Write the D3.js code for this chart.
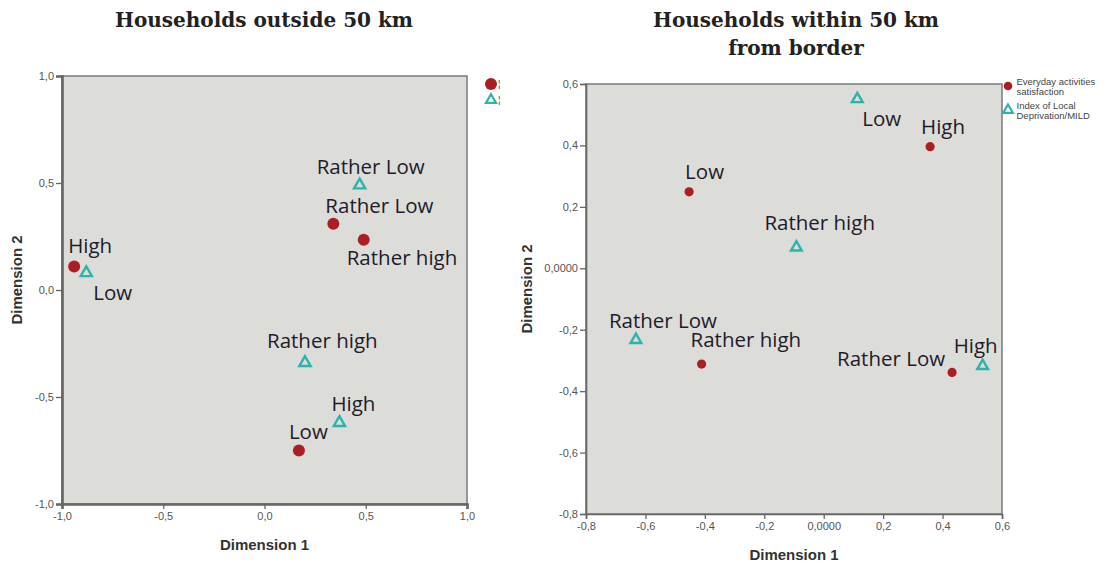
<!DOCTYPE html>
<html>
<head>
<meta charset="utf-8">
<script src="https://cdn.jsdelivr.net/npm/d3@7"></script>
<style>
  body { margin: 0; background: #fff; }
  .title { font-family: "DejaVu Serif", serif; font-weight: bold; font-size: 20px; fill: #222; }
  .tick text { font-family: Arial, "Liberation Sans", sans-serif; font-size: 11px; fill: #555; }
  .axis-title { font-family: Arial, "Liberation Sans", sans-serif; font-weight: bold; font-size: 15px; fill: #333; }
  .pt-label { font-family: "Open Sans", sans-serif; font-size: 20.5px; fill: #1e1b2a; }
  .legend-text { font-family: Arial, "Liberation Sans", sans-serif; font-size: 9.5px; fill: #444; }
</style>
</head>
<body>
<div id="chart"></div>
<script>
// Households outside 50 km
var outsideSatLabels = ["High", "Rather Low", "Rather high", "Low"];
var outsideSatX = [-0.94, 0.34, 0.49, 0.17];
var outsideSatY = [0.11, 0.31, 0.235, -0.75];
var outsideDepLabels = ["Low", "Rather Low", "Rather high", "High"];
var outsideDepX = [-0.88, 0.47, 0.20, 0.37];
var outsideDepY = [0.08, 0.49, -0.34, -0.62];

// Households within 50 km from border
var withinSatLabels = ["High", "Low", "Rather high", "Rather Low"];
var withinSatX = [0.358, -0.453, -0.411, 0.432];
var withinSatY = [0.396, 0.249, -0.312, -0.339];
var withinDepLabels = ["Low", "Rather high", "Rather Low", "High"];
var withinDepX = [0.113, -0.092, -0.632, 0.535];
var withinDepY = [0.551, 0.068, -0.233, -0.318];

var outsideTicks = [-1, -0.5, 0, 0.5, 1];
var withinTicks = [-0.8, -0.6, -0.4, -0.2, 0, 0.2, 0.4, 0.6];
var legendNames = [["Everyday activities", "satisfaction"], ["Index of Local", "Deprivation/MILD"]];

// label placement (layout only), offsets from the marker centre
var outsideSatOff = [[-6, -13], [-8, -11], [-17, 25], [-10, -12]];
var outsideDepOff = [[7, 27], [-43, -11], [-38, -15], [-8, -12]];
var withinSatOff = [[-9, -13], [-4, -13], [-11, -17], [-115, -6]];
var withinDepOff = [[5, 27], [-32, -17], [-27, -12], [-29, -13]];

var RED = "#ab1f24", TEAL = "#2bb3ad";

var locale = d3.formatLocale({decimal: ",", thousands: ".", grouping: [3], currency: ["", ""], minus: "-"});
var f1 = locale.format(".1f");

var svg = d3.select("#chart").append("svg")
    .attr("width", 1115)
    .attr("height", 563);

var tri = d3.symbol().type(d3.symbolTriangle);

function panel(opt) {
    var g = svg.append("g");
    var x = d3.scaleLinear().domain(opt.domain).range([opt.left, opt.right]);
    var y = d3.scaleLinear().domain(opt.domain2).range([opt.bottom, opt.top]);

    g.append("rect")
        .attr("x", opt.left).attr("y", opt.top)
        .attr("width", opt.right - opt.left).attr("height", opt.bottom - opt.top)
        .attr("fill", "#dcddd9")
        .attr("stroke", "#7a7a7a")
        .attr("stroke-width", 1.5);

    var fmt = opt.fmt;

    var xa = g.append("g")
        .attr("transform", "translate(0," + opt.bottom + ")")
        .call(d3.axisBottom(x).tickValues(opt.ticks).tickSize(5).tickPadding(3).tickFormat(fmt));
    var ya = g.append("g")
        .attr("transform", "translate(" + opt.left + ",0)")
        .call(d3.axisLeft(y).tickValues(opt.ticks2).tickSize(6).tickPadding(2).tickFormat(fmt));
    [xa, ya].forEach(function (a) {
        a.select(".domain").attr("stroke", "#666").attr("stroke-width", opt.axisW);
        a.selectAll(".tick line").attr("stroke", "#666").attr("stroke-width", 1.3);
    });

    g.append("text")
        .attr("class", "axis-title")
        .attr("x", (opt.left + opt.right) / 2)
        .attr("y", opt.bottom + 46)
        .attr("text-anchor", "middle")
        .text("Dimension 1");
    g.append("text")
        .attr("class", "axis-title")
        .attr("transform", "translate(" + opt.yTitleX + "," + ((opt.top + opt.bottom) / 2 - 10) + ")rotate(-90)")
        .attr("text-anchor", "middle")
        .text("Dimension 2");

    // title
    opt.title.forEach(function (t, i) {
        g.append("text")
            .attr("class", "title")
            .attr("x", opt.titleX)
            .attr("y", 27 + i * 28)
            .attr("text-anchor", "middle")
            .text(t);
    });

    // satisfaction points (red dots)
    opt.satX.forEach(function (v, i) {
        g.append("circle")
            .attr("cx", x(v)).attr("cy", y(opt.satY[i]))
            .attr("r", opt.r)
            .attr("fill", RED);
        g.append("text")
            .attr("class", "pt-label")
            .attr("x", x(v) + opt.satOff[i][0])
            .attr("y", y(opt.satY[i]) + opt.satOff[i][1])
            .text(opt.satLabels[i]);
    });

    // deprivation points (teal triangles)
    opt.depX.forEach(function (v, i) {
        g.append("path")
            .attr("d", tri.size(opt.triSize)())
            .attr("transform", "translate(" + x(v) + "," + y(opt.depY[i]) + ")")
            .attr("fill", "none")
            .attr("stroke", TEAL)
            .attr("stroke-width", 2.4);
        g.append("text")
            .attr("class", "pt-label")
            .attr("x", x(v) + opt.depOff[i][0])
            .attr("y", y(opt.depY[i]) + opt.depOff[i][1])
            .text(opt.depLabels[i]);
    });

    // legend
    var lg = g.append("g");
    lg.append("circle")
        .attr("cx", opt.legX).attr("cy", opt.legY)
        .attr("r", opt.legR).attr("fill", RED);
    lg.append("path")
        .attr("d", tri.size(opt.triSize * 0.8)())
        .attr("transform", "translate(" + opt.legX + "," + (opt.legY + opt.legGap) + ")")
        .attr("fill", "none").attr("stroke", TEAL).attr("stroke-width", 2.2);
    legendNames.forEach(function (lines, k) {
        if (opt.cutLegend) {
            // the left panel's legend is cut off right after the marker
            lg.append("text")
                .attr("class", "legend-text")
                .attr("x", opt.legX + 7)
                .attr("y", opt.legY + k * opt.legGap + 3)
                .attr("font-size", "7px")
                .text("¦");
            return;
        }
        lines.forEach(function (s, j) {
            lg.append("text")
                .attr("class", "legend-text")
                .attr("x", opt.legX + 8.5)
                .attr("y", opt.legY + k * opt.legGap + j * 9.5 - 1)
                .text(s);
        });
    });
}

panel({
    left: 62, right: 467, top: 76, bottom: 504,
    domain: [-1, 1], domain2: [-1, 1],
    ticks: outsideTicks, ticks2: outsideTicks,
    fmt: f1, axisW: 2.6,
    yTitleX: 22, titleX: 264,
    title: ["Households outside 50 km"],
    satX: outsideSatX, satY: outsideSatY, satLabels: outsideSatLabels, satOff: outsideSatOff,
    depX: outsideDepX, depY: outsideDepY, depLabels: outsideDepLabels, depOff: outsideDepOff,
    r: 6, triSize: 55,
    legX: 491, legY: 84, legR: 6, legGap: 16, cutLegend: true
});

panel({
    left: 586, right: 1002, top: 84, bottom: 514,
    domain: [-0.8, 0.6], domain2: [-0.8, 0.6],
    ticks: withinTicks, ticks2: withinTicks,
    fmt: function (d) { return d === 0 ? "0,0000" : f1(d); }, axisW: 1.6,
    yTitleX: 532, titleX: 796,
    title: ["Households within 50 km", "from border"],
    satX: withinSatX, satY: withinSatY, satLabels: withinSatLabels, satOff: withinSatOff,
    depX: withinDepX, depY: withinDepY, depLabels: withinDepLabels, depOff: withinDepOff,
    r: 4.6, triSize: 50,
    legX: 1008, legY: 86, legR: 4.3, legGap: 24, cutLegend: false
});
</script>
</body>
</html>
